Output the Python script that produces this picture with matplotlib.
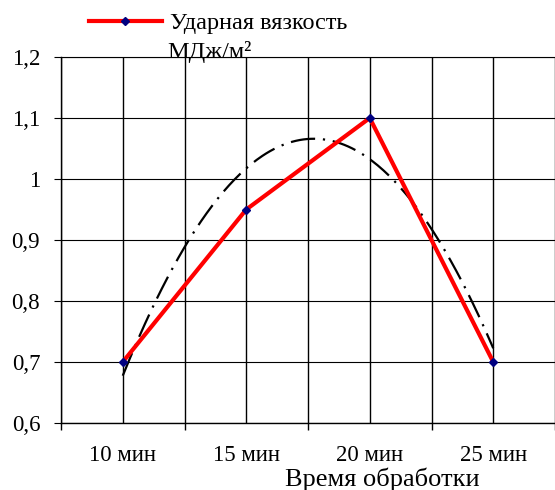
import numpy as np
import matplotlib
matplotlib.use('Agg')
import matplotlib.pyplot as plt

categories = ['10 мин', '15 мин', '20 мин', '25 мин']
impact = [0.7, 0.95, 1.1, 0.7]
y_ticks = [0.6, 0.7, 0.8, 0.9, 1.0, 1.1, 1.2]

plt.rcParams['font.family'] = 'serif'
plt.rcParams['font.serif'] = ['Liberation Serif', 'DejaVu Serif']
plt.rcParams['font.size'] = 16.5

fig = plt.figure(figsize=(5.55, 4.9), dpi=100)
# plot area runs past the right edge of the picture, as in the original
ax = fig.add_axes([61 / 555, 1 - 423 / 490, 494 / 555, 366 / 490])

x = np.arange(len(categories))

# quadratic trendline (Excel style polynomial, order 2)
coef = np.polyfit(x, impact, 2)
xs = np.linspace(x[0], x[-1], 200)
ax.plot(xs, np.polyval(coef, xs), color='black', lw=1.6,
        dashes=(11, 3.5, 1, 3.5), dash_capstyle='butt')

ax.plot(x, impact, color='red', lw=3, marker='D', ms=4.5,
        mfc='navy', mec='navy', label='Ударная вязкость')

ax.set_xlim(-0.5, 3.43)
ax.set_ylim(0.6, 1.2)

ax.set_xticks(x, categories)
ax.set_xticks(np.arange(-0.5, 3.6, 1), minor=True)
ax.tick_params(axis='x', which='major', length=0, pad=16)
ax.tick_params(axis='x', which='minor', length=5, width=1, color='black')
ax.set_yticks(y_ticks, [f'{v:g}'.replace('.', ',') for v in y_ticks])
ax.tick_params(axis='y', length=5, width=0.8, pad=10)

ax.grid(True, which='both', axis='x', color='black', lw=1)
ax.grid(True, which='major', axis='y', color='black', lw=0.8)

ax.spines['right'].set_visible(False)
ax.spines['top'].set_linewidth(0.8)
ax.spines['left'].set_linewidth(1)
ax.spines['bottom'].set_linewidth(1)

ax.set_xlabel('Время обработки', fontsize=19)
ax.xaxis.label.set_va('baseline')
ax.xaxis.set_label_coords((382 - 61) / 494, -(486 - 423) / 366)

ax.legend(loc='upper left', bbox_to_anchor=(89 / 555, 1 - 12 / 490),
          bbox_transform=fig.transFigure, frameon=False, handlelength=3.0,
          handletextpad=0.33, borderpad=0, borderaxespad=0, fontsize=17.5)
fig.text(167 / 555, 1 - 58 / 490, 'МДж/м²', va='baseline', fontsize=17.5)

fig.savefig('out.png', dpi=100)
